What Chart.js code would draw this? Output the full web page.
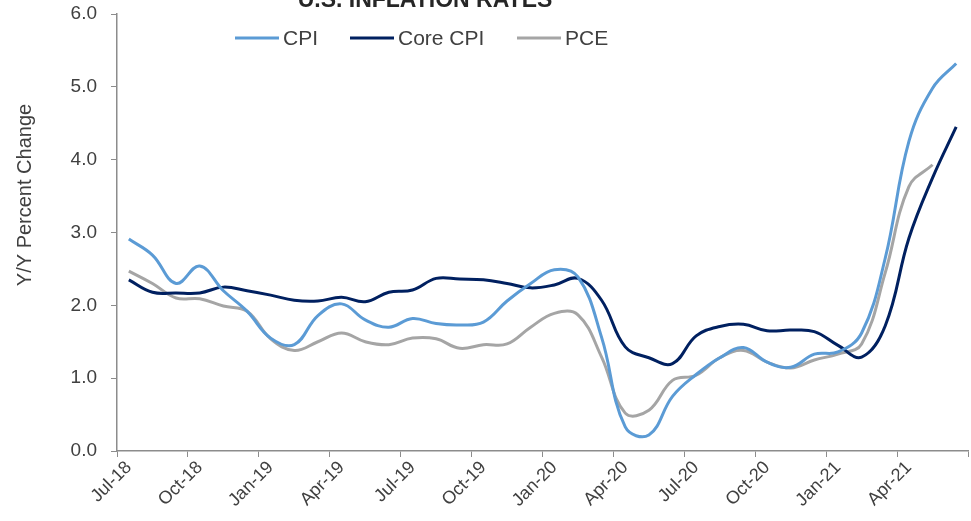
<!DOCTYPE html>
<html>
<head>
<meta charset="utf-8">
<script src="https://cdn.jsdelivr.net/npm/chart.js@4"></script>
<style>
    html, body { margin: 0; padding: 0; background: #fff; }
    #wrap { width: 971px; height: 521px; }
</style>
</head>
<body>
<div id="wrap"><canvas id="grafica" width="971" height="521"></canvas></div>
<script>
const meses = [
    'Jul-18', 'Aug-18', 'Sep-18', 'Oct-18', 'Nov-18', 'Dec-18',
    'Jan-19', 'Feb-19', 'Mar-19', 'Apr-19', 'May-19', 'Jun-19',
    'Jul-19', 'Aug-19', 'Sep-19', 'Oct-19', 'Nov-19', 'Dec-19',
    'Jan-20', 'Feb-20', 'Mar-20', 'Apr-20', 'May-20', 'Jun-20',
    'Jul-20', 'Aug-20', 'Sep-20', 'Oct-20', 'Nov-20', 'Dec-20',
    'Jan-21', 'Feb-21', 'Mar-21', 'Apr-21', 'May-21', 'Jun-21'
]

// etiquetas que se ven en el eje x (cada 3 meses)
const etiquetasX = ['Jul-18', 'Oct-18', 'Jan-19', 'Apr-19', 'Jul-19', 'Oct-19', 'Jan-20', 'Apr-20', 'Jul-20', 'Oct-20', 'Jan-21', 'Apr-21']

const cpi = [2.91, 2.69, 2.30, 2.54, 2.20, 1.92, 1.55, 1.46, 1.86, 2.02, 1.80, 1.70,
    1.82, 1.75, 1.73, 1.77, 2.06, 2.30, 2.49, 2.39, 1.56, 0.33, 0.22, 0.75,
    1.05, 1.28, 1.42, 1.22, 1.15, 1.33, 1.36, 1.62, 2.65, 4.25, 4.98, 5.32]

const coreCpi = [2.35, 2.18, 2.17, 2.17, 2.25, 2.20, 2.14, 2.07, 2.06, 2.11, 2.05, 2.18,
    2.21, 2.37, 2.36, 2.35, 2.30, 2.24, 2.28, 2.37, 2.07, 1.43, 1.28, 1.20,
    1.58, 1.71, 1.74, 1.65, 1.66, 1.64, 1.45, 1.29, 1.72, 2.92, 3.75, 4.45]

const pce = [2.47, 2.30, 2.10, 2.09, 1.99, 1.92, 1.54, 1.38, 1.50, 1.62, 1.50, 1.46,
    1.55, 1.54, 1.41, 1.46, 1.47, 1.70, 1.89, 1.87, 1.29, 0.52, 0.56, 0.97,
    1.04, 1.28, 1.38, 1.22, 1.14, 1.25, 1.33, 1.47, 2.45, 3.63, 3.93]

const ticksY = [0, 1, 2, 3, 4, 5, 6]

const fuente = "'Liberation Sans', Arial, sans-serif"
const gris = '#8c8c8c'
const texto = '#404040'

// titulo, leyenda y titulo del eje y dibujados a mano
const extras = {
    id: 'extras',
    afterDraw(chart) {
        const ctx = chart.ctx
        ctx.save()
        ctx.fillStyle = '#262626'
        ctx.font = 'bold 23px ' + fuente
        ctx.textAlign = 'center'
        ctx.textBaseline = 'alphabetic'
        ctx.fillText('U.S. INFLATION RATES', 425, 7)

        const posiciones = [235, 350, 517]
        ctx.font = '21px ' + fuente
        ctx.textAlign = 'left'
        ctx.textBaseline = 'middle'
        chart.data.datasets.forEach((ds, i) => {
            const x = posiciones[i]
            ctx.strokeStyle = ds.borderColor
            ctx.lineWidth = 3
            ctx.beginPath()
            ctx.moveTo(x, 38)
            ctx.lineTo(x + 44, 38)
            ctx.stroke()
            ctx.fillStyle = texto
            ctx.fillText(ds.label, x + 48, 39)
        })

        ctx.translate(25, 195)
        ctx.rotate(-Math.PI / 2)
        ctx.textAlign = 'center'
        ctx.font = '20px ' + fuente
        ctx.fillText('Y/Y Percent Change', 0, 0)
        ctx.restore()
    }
}

// quitar el relleno automatico de los ejes para fijar el area del grafico
function sinRelleno(s) {
    s.paddingTop = 0
    s.paddingBottom = 0
    s.paddingLeft = 0
    s.paddingRight = 0
}

new Chart(document.getElementById('grafica'), {
    type: 'line',
    data: {
        labels: meses,
        datasets: [
            { label: 'CPI', data: cpi, borderColor: '#5b9bd5', borderWidth: 3, pointRadius: 0, tension: 0.4 },
            { label: 'Core CPI', data: coreCpi, borderColor: '#002060', borderWidth: 3, pointRadius: 0, tension: 0.4 },
            { label: 'PCE', data: pce, borderColor: '#a5a5a5', borderWidth: 3, pointRadius: 0, tension: 0.4 }
        ]
    },
    options: {
        responsive: false,
        animation: false,
        layout: { padding: { top: 14, right: 3, left: 0, bottom: 0 } },
        plugins: {
            legend: { display: false },
            tooltip: { enabled: false }
        },
        scales: {
            x: {
                type: 'category',
                offset: true,
                afterFit: s => { s.height = 70; sinRelleno(s) },
                border: { color: gris, width: 1.5 },
                grid: {
                    offset: true,
                    drawOnChartArea: false,
                    tickLength: 6,
                    color: c => (c.type !== 'tick' || c.index % 3 === 0) ? gris : 'transparent'
                },
                ticks: {
                    autoSkip: false,
                    minRotation: 45,
                    maxRotation: 45,
                    color: texto,
                    font: { family: fuente, size: 18 },
                    padding: 0,
                    callback: (v, i) => etiquetasX.includes(meses[i]) ? meses[i] : ''
                }
            },
            y: {
                min: 0,
                max: 6,
                afterFit: s => { s.width = 117; sinRelleno(s) },
                afterBuildTicks: s => { s.ticks = ticksY.map(v => ({ value: v })) },
                border: { color: gris, width: 1.5 },
                grid: { drawOnChartArea: false, tickLength: 6, color: gris },
                ticks: {
                    color: texto,
                    font: { family: fuente, size: 19 },
                    padding: 14,
                    callback: v => v.toFixed(1)
                }
            }
        }
    },
    plugins: [extras]
})
</script>
</body>
</html>
